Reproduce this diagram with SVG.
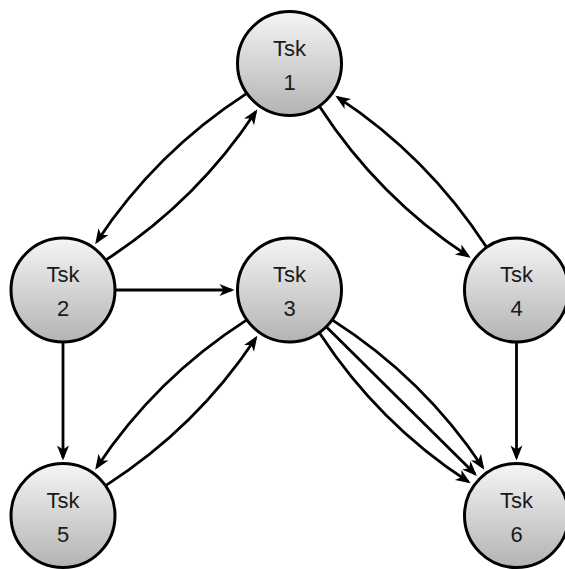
<svg xmlns="http://www.w3.org/2000/svg" width="565" height="569" viewBox="0 0 565 569">
  <defs>
    <linearGradient id="nodeFill" x1="0" y1="0" x2="0" y2="1">
      <stop offset="0" stop-color="#f5f5f5"/>
      <stop offset="1" stop-color="#b3b3b3"/>
    </linearGradient>
    <marker id="arrow" markerUnits="userSpaceOnUse" viewBox="-13 -7 17 14" markerWidth="17" markerHeight="14" refX="0" refY="0" orient="auto" overflow="visible">
      <path d="M3,0 L-12,-6 L-8,0 L-12,6 Z" fill="#000"/>
    </marker>
    <style>
      .node circle { fill: url(#nodeFill); stroke: #000; stroke-width: 3; }
      .node text { font-family: "Liberation Sans", Arial, sans-serif; font-size: 22px; fill: #1a1a1a; text-anchor: middle; }
      .edges path { fill: none; stroke: #000; stroke-width: 2.8; marker-end: url(#arrow); }
    </style>
  </defs>

  <g class="edges" id="edges">
    <!-- Tsk1 <-> Tsk2 -->
    <path id="e1-2" d="M246.08,93.9 Q155.9,152.23 96.84,241.67"/>
    <path id="e2-1" d="M106.42,259.6 Q196.6,201.28 255.66,111.83"/>
    <!-- Tsk1 <-> Tsk4 -->
    <path id="e1-4" d="M319.9,106.92 Q378.48,197.1 468.17,256.16"/>
    <path id="e4-1" d="M486.1,246.58 Q427.53,156.4 337.83,97.34"/>
    <!-- straight links -->
    <path id="e2-3" d="M116,290 L231.5,290"/>
    <path id="e2-5" d="M63,343 L63,457.5"/>
    <path id="e4-6" d="M516.5,343 L516.5,457.5"/>
    <!-- Tsk3 <-> Tsk5 -->
    <path id="e3-5" d="M246.08,320.4 Q155.9,378.23 96.84,467.17"/>
    <path id="e5-3" d="M106.42,485.1 Q196.6,427.28 255.66,338.33"/>
    <!-- Tsk3 -> Tsk6 (three links) -->
    <path id="e3-6a" d="M332.92,320.4 Q423.35,378.23 482.66,467.17"/>
    <path id="e3-6b" d="M326.98,327.48 L474.78,473.78"/>
    <path id="e3-6c" d="M319.9,333.42 Q378.48,423.1 468.17,481.66"/>
  </g>

  <g class="node" id="tsk1">
    <circle cx="289.5" cy="63.5" r="52"/>
    <text x="289.5" y="55.5">Tsk</text>
    <text x="289.5" y="89.5">1</text>
  </g>
  <g class="node" id="tsk2">
    <circle cx="63" cy="290" r="52"/>
    <text x="63" y="282">Tsk</text>
    <text x="63" y="316">2</text>
  </g>
  <g class="node" id="tsk3">
    <circle cx="289.5" cy="290" r="52"/>
    <text x="289.5" y="282">Tsk</text>
    <text x="289.5" y="316">3</text>
  </g>
  <g class="node" id="tsk4">
    <circle cx="516.5" cy="290" r="52"/>
    <text x="516.5" y="282">Tsk</text>
    <text x="516.5" y="316">4</text>
  </g>
  <g class="node" id="tsk5">
    <circle cx="63" cy="515.5" r="52"/>
    <text x="63" y="508">Tsk</text>
    <text x="63" y="542">5</text>
  </g>
  <g class="node" id="tsk6">
    <circle cx="516.5" cy="515.5" r="52"/>
    <text x="516.5" y="508">Tsk</text>
    <text x="516.5" y="542">6</text>
  </g>
</svg>
